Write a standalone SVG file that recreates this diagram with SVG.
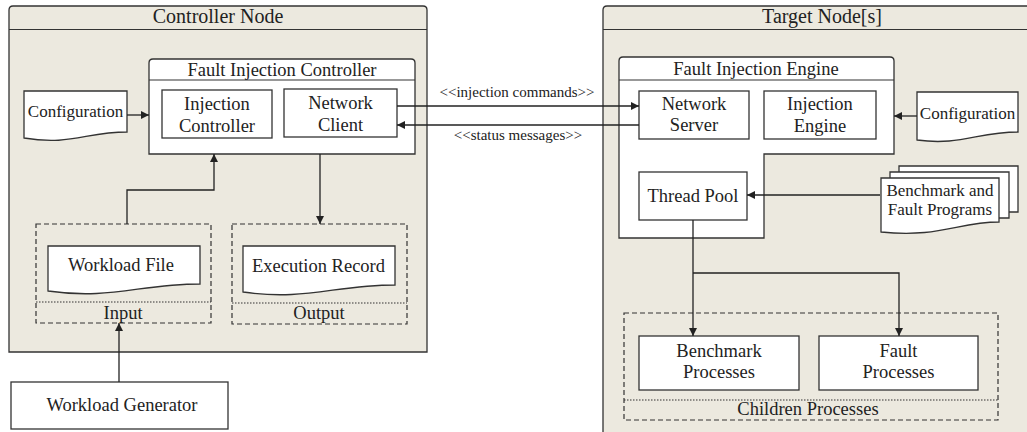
<svg xmlns="http://www.w3.org/2000/svg" width="1027" height="432" viewBox="0 0 1027 432" font-family="'Liberation Serif', 'DejaVu Serif', serif">
<style>
.bg{fill:#ECE9DF;stroke:#333;stroke-width:1.3}
.box{fill:#fff;stroke:#333;stroke-width:1.3}
.dash{fill:none;stroke:#333;stroke-width:1.2;stroke-dasharray:5,3}
.dot{fill:none;stroke:#333;stroke-width:1.2;stroke-dasharray:1.5,1.5}
.ln{fill:none;stroke:#333;stroke-width:1.2}
.con{fill:none;stroke:#222;stroke-width:1.3;marker-end:url(#ah)}
text{font-family:'Liberation Serif','DejaVu Serif',serif;fill:#222;text-anchor:middle;font-size:18.5px}
.hd{font-size:20px}
.sm{font-size:17px}
.lb{font-size:15px}
</style>
<defs>
<marker id="ah" viewBox="0 0 10 10" refX="10" refY="5" markerWidth="8" markerHeight="8" markerUnits="userSpaceOnUse" orient="auto">
<path d="M0,0 L10,5 L0,10 Z" fill="#222"/>
</marker>
</defs>
<rect width="1027" height="432" fill="#fff"/>

<g id="controller-node">
<path class="bg" d="M9,352 V10 Q9,6 13,6 H423 Q427,6 427,10 V352 Z"/>
<line class="ln" x1="9" y1="29.5" x2="427" y2="29.5"/>
<text class="hd" x="218" y="23">Controller Node</text>
</g>

<g id="target-node">
<path class="bg" d="M603,440 V10 Q603,6 607,6 H1040 V440 Z"/>
<line class="ln" x1="603" y1="29.5" x2="1027" y2="29.5"/>
<text class="hd" x="822" y="23">Target Node[s]</text>
</g>

<g id="fault-injection-controller">
<path class="box" d="M149,154 V63 Q149,59 153,59 H411 Q415,59 415,63 V154 Z"/>
<line class="ln" x1="149" y1="80" x2="415" y2="80"/>
<text x="282" y="76">Fault Injection Controller</text>
</g>

<g id="injection-controller">
<rect class="box" x="162" y="90" width="110" height="48"/>
<text x="217" y="110">Injection</text>
<text x="217" y="132">Controller</text>
</g>

<g id="network-client">
<rect class="box" x="284" y="89" width="113" height="48"/>
<text x="340.5" y="109">Network</text>
<text x="340.5" y="131">Client</text>
</g>

<g id="configuration-left">
<path class="box" d="M24,91 H127 V132 C86,132 70,146 24,138 Z"/>
<text class="sm" x="75.5" y="117">Configuration</text>
</g>

<g id="input">
<rect class="dash" x="36" y="224" width="175" height="99"/>
<line class="dot" x1="36" y1="302" x2="211" y2="302"/>
<text x="123" y="319">Input</text>
</g>

<g id="workload-file">
<path class="box" d="M48,246 H200 V284 C140,284 110,300 48,291 Z"/>
<text x="121" y="271">Workload File</text>
</g>

<g id="output">
<rect class="dash" x="232" y="224" width="175" height="100"/>
<line class="dot" x1="232" y1="303" x2="407" y2="303"/>
<text x="319" y="319">Output</text>
</g>

<g id="execution-record">
<path class="box" d="M243,246 H395 V285 C335,285 305,301 243,292 Z"/>
<text x="318.5" y="272">Execution Record</text>
</g>

<g id="workload-generator">
<rect class="box" x="11" y="382" width="217" height="47"/>
<text x="122" y="411">Workload Generator</text>
</g>

<g id="fault-injection-engine">
<path class="box" d="M619,238 V61 Q619,57 623,57 H890 Q894,57 894,61 V154 H764 V238 Z"/>
<line class="ln" x1="619" y1="80" x2="894" y2="80"/>
<text x="756" y="75">Fault Injection Engine</text>
</g>

<g id="network-server">
<rect class="box" x="639" y="91" width="110" height="48"/>
<text x="694" y="110">Network</text>
<text x="694" y="131">Server</text>
</g>

<g id="injection-engine">
<rect class="box" x="764" y="91" width="112" height="48"/>
<text x="820" y="110">Injection</text>
<text x="820" y="132">Engine</text>
</g>

<g id="thread-pool">
<rect class="box" x="639" y="172" width="108" height="48"/>
<text x="693" y="202">Thread Pool</text>
</g>

<g id="configuration-right">
<path class="box" d="M917,92 H1018 V132 C978,132 960,146 917,140 Z"/>
<text class="sm" x="967.5" y="119">Configuration</text>
</g>

<g id="benchmark-fault-programs">
<path class="box" d="M899,166 H1018 V212 H899 Z"/>
<path class="box" d="M890,172 H1009 V218 H890 Z"/>
<path class="box" d="M881,178 H999 V222 C958,222 940,238 881,232 Z"/>
<text class="sm" x="940" y="196">Benchmark and</text>
<text class="sm" x="940" y="215">Fault Programs</text>
</g>

<g id="children-processes">
<rect class="dash" x="624" y="313" width="374" height="107"/>
<line class="dot" x1="624" y1="400" x2="998" y2="400"/>
<text x="808" y="415">Children Processes</text>
</g>

<g id="benchmark-processes">
<rect class="box" x="639" y="336" width="160" height="54"/>
<text x="719" y="357">Benchmark</text>
<text x="719" y="378">Processes</text>
</g>

<g id="fault-processes">
<rect class="box" x="819" y="336" width="159" height="54"/>
<text x="898.5" y="357">Fault</text>
<text x="898.5" y="378">Processes</text>
</g>

<g id="connectors">
<path class="con" d="M127,115 H149"/>
<path class="con" d="M127,224 V190 H214 V154"/>
<path class="con" d="M320,154 V224"/>
<path class="con" d="M119,382 V323"/>
<path class="con" d="M397,106 H639"/>
<path class="con" d="M639,125 H397"/>
<text class="lb" x="517" y="97">&lt;&lt;injection commands&gt;&gt;</text>
<text class="lb" x="518" y="140">&lt;&lt;status messages&gt;&gt;</text>
<path class="con" d="M917,116 H894"/>
<path class="con" d="M880,195 H747"/>
<path class="con" d="M693,220 V336"/>
<path class="con" d="M693,273 H899 V336"/>
</g>
</svg>
